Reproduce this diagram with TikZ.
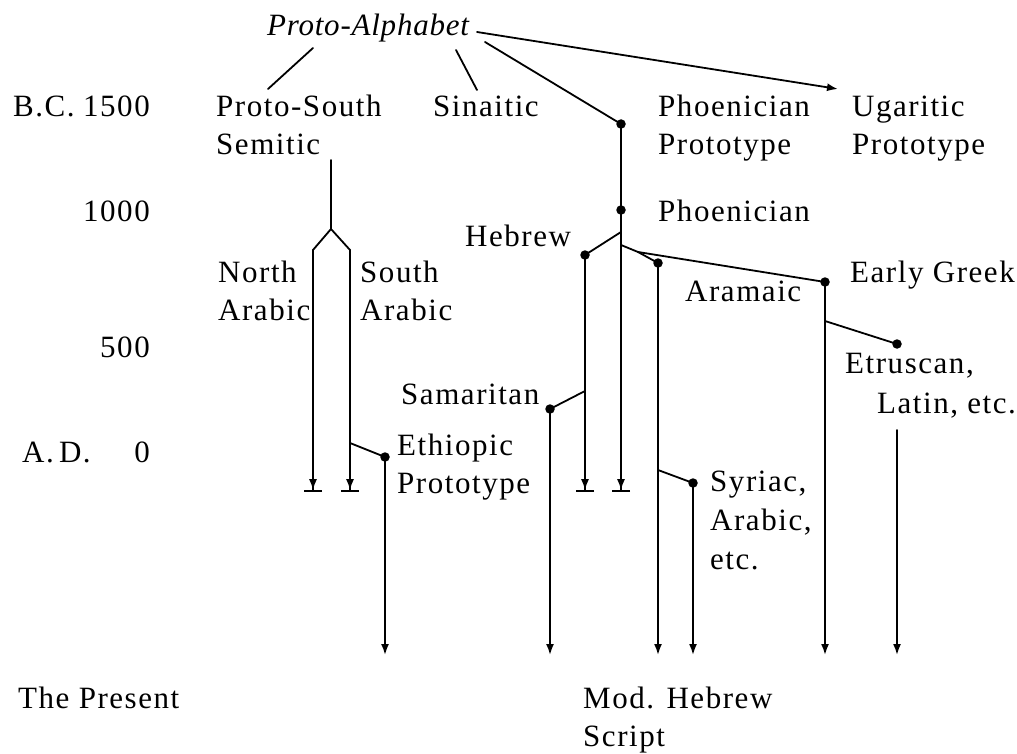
\documentclass[tikz,border=0pt]{standalone}
\usepackage{fontspec}
\setmainfont{Liberation Serif}[LetterSpace=5]
\newfontfamily\itfam{Liberation Serif}[LetterSpace=2.5]
\usetikzlibrary{arrows.meta}
\tikzset{
  lbl/.style={anchor=base west, inner sep=0pt, font=\fontsize{31}{38}\selectfont},
  lble/.style={anchor=base east, inner sep=0pt, font=\fontsize{31}{38}\selectfont},
  ln/.style={line width=1.8pt, line cap=round},
  arr/.style={ln, -{Latex[length=11pt,width=8pt]}},
  tarr/.style={ln, -{Latex[length=11pt,width=8pt]Bar[width=18pt,line width=1.8pt]}},
  dotnode/.style={circle, fill, inner sep=0pt, minimum size=9.5pt}
}
\begin{document}
\begin{tikzpicture}[x=1pt,y=-1pt]
\useasboundingbox (0,0) rectangle (1017,754);
% ---- texts ----
\node[lbl, font=\fontsize{31}{38}\selectfont\itfam\itshape] (pa) at (267,36) {Proto-Alphabet};
\node[lbl] (bc) at (13,117) {B.C.};
\node[lble] (y1500) at (150,117) {1500};
\node[lble] (y1000) at (150,222) {1000};
\node[lble] (y500) at (150,357) {500};
\node[lbl] (ad) at (22,462) {A.\,D.};
\node[lble] (y0) at (150,462) {0};
\node[lbl] (present) at (18,708) {The Present};
\node[lbl] (ps1) at (216,117) {Proto-South};
\node[lbl] (ps2) at (216,155) {Semitic};
\node[lbl] (sin) at (433,117) {Sinaitic};
\node[lbl] (pp1) at (658,117) {Phoenician};
\node[lbl] (pp2) at (658,155) {Prototype};
\node[lbl] (ug1) at (852,117) {Ugaritic};
\node[lbl] (ug2) at (852,155) {Prototype};
\node[lbl] (phoen) at (658,222) {Phoenician};
\node[lbl] (hebt) at (465,246) {Hebrew};
\node[lbl] (na1) at (218,282) {North};
\node[lbl] (na2) at (218,320) {Arabic};
\node[lbl] (sa1) at (360,282) {South};
\node[lbl] (sa2) at (360,320) {Arabic};
\node[lbl] (eg) at (850,282) {Early Greek};
\node[lbl] (aram) at (685,301) {Aramaic};
\node[lbl] (et1) at (845,373) {Etruscan,};
\node[lbl] (et2) at (877,413) {Latin, etc.};
\node[lbl] (samt) at (401,404) {Samaritan};
\node[lbl] (eth1) at (397,455) {Ethiopic};
\node[lbl] (eth2) at (397,493) {Prototype};
\node[lbl] (sy1) at (710,491) {Syriac,};
\node[lbl] (sy2) at (710,530) {Arabic,};
\node[lbl] (sy3) at (710,569) {etc.};
\node[lbl] (mh1) at (583,708) {Mod. Hebrew};
\node[lbl] (mh2) at (583,746) {Script};
% ---- dots ----
\node[dotnode] (php) at (621,124) {};
\node[dotnode] (phd) at (621,210) {};
\node[dotnode] (heb) at (585,255) {};
\node[dotnode] (ara) at (658,263) {};
\node[dotnode] (grk) at (825,282) {};
\node[dotnode] (sam) at (550,409) {};
\node[dotnode] (syr) at (693,483) {};
\node[dotnode] (etr) at (897,344) {};
\node[dotnode] (eth) at (385,457) {};
% ---- coordinates ----
\coordinate (paR) at (477,32);
\coordinate (ugA) at (838,89);
\coordinate (s1a) at (313,48);
\coordinate (s1b) at (268,89);
\coordinate (b1a) at (456,50);
\coordinate (b1b) at (477,90);
\coordinate (paD) at (485,42);
\coordinate (jheb) at (621,232);
\coordinate (jara) at (621,245);
\coordinate (jsplit) at (638,252);
\coordinate (phe) at (621,492);
\coordinate (hebe) at (585,492);
\coordinate (jsam) at (585,391);
\coordinate (same) at (550,655);
\coordinate (arae) at (658,655);
\coordinate (jsyr) at (658,470);
\coordinate (syre) at (693,655);
\coordinate (grke) at (825,655);
\coordinate (jetr) at (825,321);
\coordinate (lat) at (897,430);
\coordinate (late) at (897,655);
\coordinate (psv) at (331,160);
\coordinate (fork) at (331,229);
\coordinate (nab) at (313,250);
\coordinate (sab) at (350,250);
\coordinate (nae) at (313,492);
\coordinate (sae) at (350,492);
\coordinate (jeth) at (350,443);
\coordinate (ethe) at (385,655);
% ---- connectors ----
\draw[arr] (paR) -- (ugA);
\draw[ln] (s1a) -- (s1b);
\draw[ln] (b1a) -- (b1b);
\draw[ln] (paD) -- (php.center);
\draw[ln] (php.center) -- (phd.center);
\draw[tarr] (phd.center) -- (phe);
\draw[ln] (jheb) -- (heb.center);
\draw[ln] (jara) -- (jsplit) -- (grk.center);
\draw[ln] (jsplit) -- (ara.center);
\draw[tarr] (heb.center) -- (hebe);
\draw[ln] (jsam) -- (sam.center);
\draw[arr] (sam.center) -- (same);
\draw[arr] (ara.center) -- (arae);
\draw[ln] (jsyr) -- (syr.center);
\draw[arr] (syr.center) -- (syre);
\draw[arr] (grk.center) -- (grke);
\draw[ln] (jetr) -- (etr.center);
\draw[arr] (lat) -- (late);
\draw[ln] (psv) -- (fork);
\draw[tarr] (fork) -- (nab) -- (nae);
\draw[tarr] (fork) -- (sab) -- (sae);
\draw[ln] (jeth) -- (eth.center);
\draw[arr] (eth.center) -- (ethe);
\end{tikzpicture}
\end{document}
